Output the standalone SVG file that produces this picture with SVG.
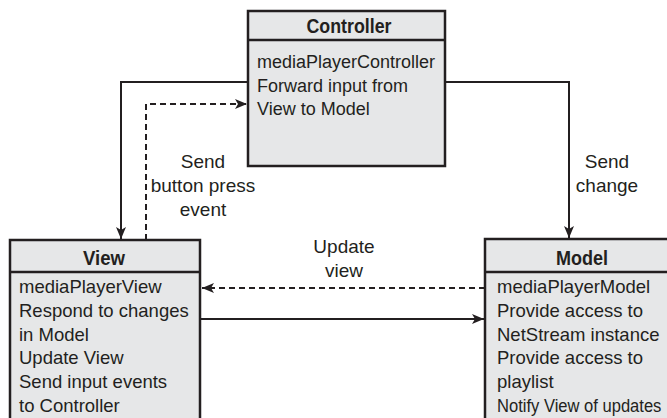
<svg xmlns="http://www.w3.org/2000/svg" width="667" height="418" viewBox="0 0 667 418">
  <style>
    .box { fill: #e6e7e8; stroke: #231f20; stroke-width: 2.5; }
    .div { stroke: #231f20; stroke-width: 2.5; fill: none; }
    .hdr { font-family: "Liberation Sans", Arial, sans-serif; font-weight: bold; font-size: 20px; fill: #231f20; text-anchor: middle; }
    .body { font-family: "Liberation Sans", Arial, sans-serif; font-size: 18.5px; fill: #231f20; }
    .small { font-size: 18px; }
    .lbl { font-family: "Liberation Sans", Arial, sans-serif; font-size: 19px; fill: #231f20; text-anchor: middle; }
    .conn { stroke: #231f20; stroke-width: 2; fill: none; }
    .dash { stroke-dasharray: 6 4; }
  </style>
  <defs>
    <marker id="arrow" viewBox="0 0 12 10" refX="12" refY="5" markerWidth="12" markerHeight="10" markerUnits="userSpaceOnUse" orient="auto">
      <path d="M0,0 L12,5 L0,10 L3,5 Z" fill="#231f20"/>
    </marker>
  </defs>

  <rect width="667" height="418" fill="#ffffff"/>

  <!-- connectors and their labels -->
  <g id="connectors">
    <path class="conn" d="M248,82 H121 V239" marker-end="url(#arrow)"/>
    <path class="conn dash" d="M146,240 V104 H247" marker-end="url(#arrow)"/>
    <path class="conn" d="M445,82 H569 V238" marker-end="url(#arrow)"/>
    <path class="conn dash" d="M485,288 H202" marker-end="url(#arrow)"/>
    <path class="conn" d="M201,319 H484" marker-end="url(#arrow)"/>
    <text class="lbl" x="203" y="168">Send</text>
    <text class="lbl" x="203" y="192">button press</text>
    <text class="lbl" x="203" y="216">event</text>
    <text class="lbl" x="607" y="168">Send</text>
    <text class="lbl" x="607" y="192">change</text>
    <text class="lbl" x="344" y="253">Update</text>
    <text class="lbl" x="344" y="277">view</text>
  </g>

  <!-- Controller -->
  <g id="controller">
    <rect class="box" x="248" y="11" width="197" height="155"/>
    <line class="div" x1="248" y1="40" x2="445" y2="40"/>
    <text class="hdr" x="349" y="33" textLength="85" lengthAdjust="spacingAndGlyphs">Controller</text>
    <text class="body small" x="257" y="68">mediaPlayerController</text>
    <text class="body small" x="257" y="91.5">Forward input from</text>
    <text class="body small" x="257" y="115">View to Model</text>
  </g>

  <!-- View -->
  <g id="view">
    <rect class="box" x="10" y="240" width="190" height="190"/>
    <line class="div" x1="10" y1="272" x2="200" y2="272"/>
    <text class="hdr" x="104" y="265" textLength="42" lengthAdjust="spacingAndGlyphs">View</text>
    <text class="body" x="19" y="293">mediaPlayerView</text>
    <text class="body" x="19" y="316.8">Respond to changes</text>
    <text class="body" x="19" y="340.6">in Model</text>
    <text class="body" x="19" y="364.4">Update View</text>
    <text class="body" x="19" y="388.2">Send input events</text>
    <text class="body" x="19" y="412">to Controller</text>
  </g>

  <!-- Model -->
  <g id="model">
    <rect class="box" x="485" y="239" width="194" height="191"/>
    <line class="div" x1="485" y1="272" x2="679" y2="272"/>
    <text class="hdr" x="582" y="265" textLength="52" lengthAdjust="spacingAndGlyphs">Model</text>
    <text class="body" x="497" y="293">mediaPlayerModel</text>
    <text class="body" x="497" y="316.8">Provide access to</text>
    <text class="body" x="497" y="340.6">NetStream instance</text>
    <text class="body" x="497" y="364.4">Provide access to</text>
    <text class="body" x="497" y="388.2">playlist</text>
    <!-- last line is squeezed horizontally so it fits the box width -->
    <text class="body" transform="translate(497,412) scale(0.895,1)">Notify View of updates</text>
  </g>
</svg>
